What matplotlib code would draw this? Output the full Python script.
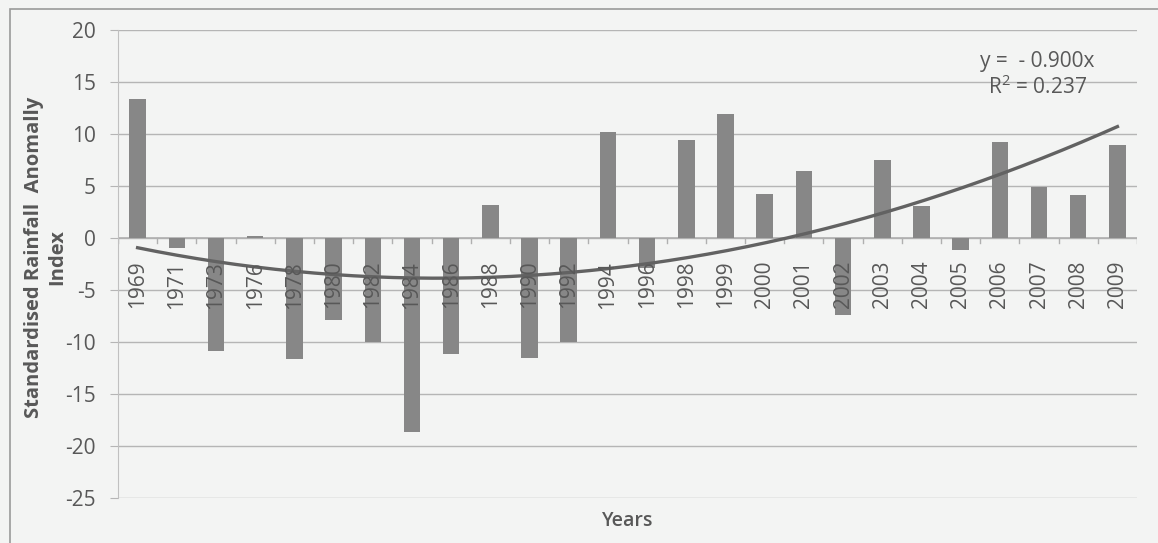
import numpy as np
import matplotlib
matplotlib.use("Agg")
import matplotlib.pyplot as plt
from matplotlib.patches import Rectangle

years = ["1969", "1971", "1973", "1976", "1978", "1980", "1982", "1984", "1986", "1988",
         "1990", "1992", "1994", "1996", "1998", "1999", "2000", "2001", "2002", "2003",
         "2004", "2005", "2006", "2007", "2008", "2009"]
sra_index = [13.4, -1.0, -10.9, 0.15, -11.6, -7.9, -10.0, -18.7, -11.2, 3.2,
             -11.5, -10.0, 10.2, -2.9, 9.4, 11.9, 4.2, 6.4, -7.4, 7.5,
             3.1, -1.2, 9.2, 4.9, 4.1, 8.9]
# polynomial trend line, at each category
trend_index = [-0.9, -1.7, -2.3, -2.8, -3.2, -3.5, -3.7, -3.75, -3.8, -3.75,
               -3.7, -3.4, -3.1, -2.6, -1.8, -1.0, -0.4, 0.3, 1.25, 2.4,
               3.5, 4.9, 6.2, 7.5, 8.8, 10.9]
y_ticks = [20, 15, 10, 5, 0, -5, -10, -15, -20, -25]
eq_text = "y =  - 0.900x"
r2_text = "R$^2$ = 0.237"

plt.rcParams['font.family'] = ['Open Sans', 'DejaVu Sans']
plt.rcParams['mathtext.fontset'] = 'custom'
plt.rcParams['mathtext.rm'] = 'Open Sans'
txt = "#585858"
bg = "#f3f4f3"
fs = 15

fig = plt.figure(figsize=(11.58, 5.43), dpi=100, facecolor=bg)
ax = fig.add_axes([0.1019, 0.0829, 0.8800, 0.8619], facecolor=bg)

x = np.arange(1, len(years) + 1)
ax.bar(x, sra_index, width=0.42, color="#878787", zorder=3)

# smooth trend curve through the read trend values
coef = np.polyfit(x, trend_index, 4)
xs = np.linspace(1, len(years), 300)
ax.plot(xs, np.polyval(coef, xs), color="#626262", lw=2.4, zorder=4)

ax.set_xlim(0.5, len(years) + 0.5)
ax.set_ylim(-25, 20)
ax.set_yticks(y_ticks)
ax.set_yticklabels([str(v) for v in y_ticks], fontsize=fs, color=txt)
ax.yaxis.grid(True, color="#b5b5b5", lw=1.0, zorder=0)
ax.tick_params(axis='y', length=6, color="#b5b5b5", pad=10)
for s in ["top", "right", "bottom"]:
    ax.spines[s].set_visible(False)
ax.spines["left"].set_color("#c0c0c0")

# category axis at zero
ax.set_xticks([])
ax.axhline(0, color="#b0b0b0", lw=1.2, zorder=2)
for b in np.arange(0.5, len(years) + 1, 1):
    ax.plot([b, b], [0, -0.45], color="#b0b0b0", lw=1.0, zorder=2)
for xi, lab in zip(x, years):
    ax.text(xi, -2.2, lab, rotation=90, ha="center", va="top", fontsize=fs,
            color=txt, zorder=5)

ax.set_ylabel("Standardised Rainfall  Anomally\nIndex", fontsize=14.5,
              fontweight="bold", color=txt, linespacing=1.2)
ax.yaxis.set_label_coords(-0.050, 0.515)
fig.text(0.5425, 0.04, "Years", ha="center", va="center", fontsize=14,
         color=txt, fontweight="semibold")

ax.text(23.95, 17.0, eq_text, ha="center", va="center", fontsize=fs, color=txt)
ax.text(23.95, 14.5, r2_text, ha="center", va="center", fontsize=fs, color=txt)

# outer chart border
fig.patches.append(Rectangle((0.0085, -0.01), 1.2, 0.993, transform=fig.transFigure,
                             fill=False, edgecolor="#9a9a9a", lw=1.2))

fig.savefig("out.png", dpi=100, facecolor=bg)
